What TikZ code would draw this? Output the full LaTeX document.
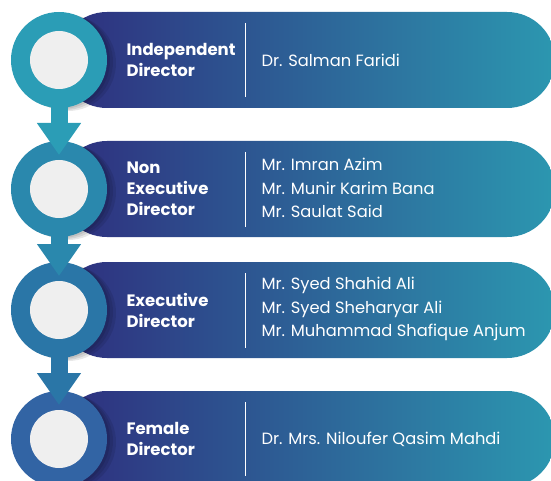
\documentclass[tikz,border=0pt]{standalone}
\usepackage{fontspec}
\setmainfont{Poppins}
\usetikzlibrary{arrows.meta,calc}
\definecolor{ringA}{HTML}{2B9DB6}
\definecolor{ringB}{HTML}{2A88AD}
\definecolor{ringC}{HTML}{2A76A7}
\definecolor{ringD}{HTML}{3264A4}
\definecolor{bandL}{HTML}{2E2E7E}
\definecolor{bandR}{HTML}{2C97B0}
\definecolor{holefill}{HTML}{EFEFEF}
\begin{document}
\begin{tikzpicture}[x=1pt,y=-1pt,
  band/.style={left color=bandL, right color=bandR, rounded corners=48pt},
  ring/.style={circle, minimum size=96pt, inner sep=0pt},
  hole/.style={circle, minimum size=58pt, inner sep=0pt, fill=holefill},
  shade ring/.style={circle, minimum size=96pt, inner sep=0pt, fill=black, opacity=0.09},
  flow/.style={line width=17pt, -{Triangle[width=42pt,length=32pt]}},
  role/.style={anchor=west, align=left, text=white, font=\fontsize{16.5}{21}\selectfont\bfseries},
  names/.style={anchor=west, align=left, text=white, font=\fontsize{16.3}{23.5}\selectfont},
  sep/.style={draw=white, line width=0.9pt}
]
\useasboundingbox (0,0) rectangle (551,481);
\clip (0,0) rectangle (551,481);
% bands
\shade[band] (59,12) rectangle (555,108);
\shade[band] (59,141) rectangle (555,237);
\shade[band] (59,262) rectangle (555,358);
\shade[band] (59,391) rectangle (555,487);
% soft shadows of rings on bands
\foreach \y in {60,189,310,439}{
  \foreach \d in {3,6,9}{
    \node[shade ring] at (59+\d,\y+\d/3) {};
  }
}
% rings
\node[ring, fill=ringA] (c1) at (59,60) {};
\node[ring, fill=ringB] (c2) at (59,189) {};
\node[ring, fill=ringC] (c3) at (59,310) {};
\node[ring, fill=ringD] (c4) at (59,439) {};
% holes
\node[hole] (h1) at (c1) {};
\node[hole] (h2) at (c2) {};
\node[hole] (h3) at (c3) {};
\node[hole] (h4) at (c4) {};
% arrows
\draw[flow, draw=ringA] ($(c1.south)+(0,-4)$) -- ($(c2.center)+(0,-34)$);
\draw[flow, draw=ringB] ($(c2.south)+(0,-4)$) -- ($(c3.center)+(0,-34)$);
\draw[flow, draw=ringC] ($(c3.south)+(0,-4)$) -- ($(c4.center)+(0,-34)$);
% separators
\coordinate (s1a) at (245,23); \coordinate (s1b) at (245,97);
\coordinate (s2a) at (245,152); \coordinate (s2b) at (245,227);
\coordinate (s3a) at (245,273); \coordinate (s3b) at (245,348);
\coordinate (s4a) at (245,402); \coordinate (s4b) at (245,476);
\draw[sep] (s1a) -- (s1b);
\draw[sep] (s2a) -- (s2b);
\draw[sep] (s3a) -- (s3b);
\draw[sep] (s4a) -- (s4b);
% texts
\node[role] (r1) at (123,60) {Independent\\Director};
\node[role] (r2) at (123,189) {Non\\Executive\\Director};
\node[role] (r3) at (123,310) {Executive\\Director};
\node[role] (r4) at (123,439) {Female\\Director};
\node[names] (n1) at (258,60) {Dr. Salman Faridi};
\node[names] (n2) at (258,188) {Mr. Imran Azim\\Mr. Munir Karim Bana\\Mr. Saulat Said};
\node[names] (n3) at (258,309) {Mr. Syed Shahid Ali\\Mr. Syed Sheharyar Ali\\Mr. Muhammad Shafique Anjum};
\node[names] (n4) at (258,439) {Dr. Mrs. Niloufer Qasim Mahdi};
\end{tikzpicture}
\end{document}
